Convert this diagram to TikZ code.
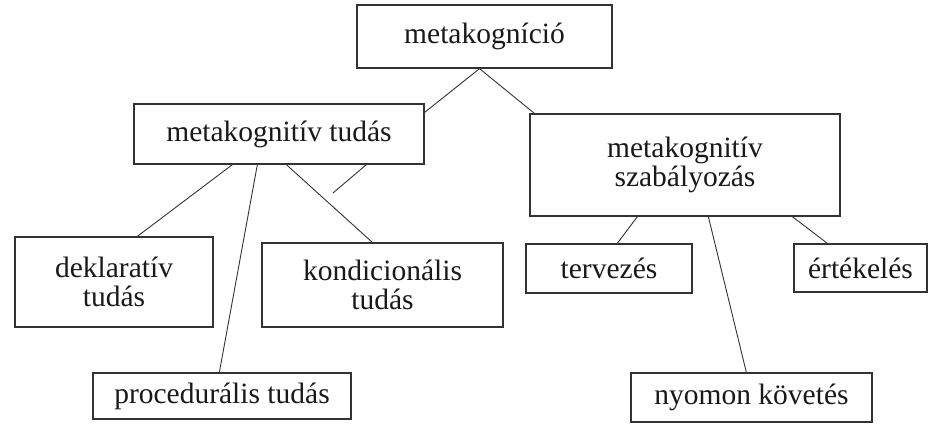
\documentclass[tikz,border=0pt]{standalone}
\usepackage{fontspec}
\setmainfont{Liberation Serif}
\usepackage{tikz}

\begin{document}
\begin{tikzpicture}[
    x=1pt, y=-1pt,
    font=\fontsize{29.5}{29.5}\selectfont,
    box/.style={draw=black!80, line width=1.3pt, inner sep=0pt,
                text=black!90, align=center},
    link/.style={draw=black!80, line width=0.9pt}
  ]
    \useasboundingbox (0,0) rectangle (934,423);
    \node[box, minimum width=255pt, minimum height=63pt] (MK) at (484.5,36.5) {metakogníció};
    \node[box, minimum width=290pt, minimum height=60pt] (MT) at (279,134) {metakognitív tudás};
    \node[box, minimum width=310pt, minimum height=102pt] (MS) at (685,165) {metakognitív\\szabályozás};
    \node[box, minimum width=198pt, minimum height=90pt] (DT) at (114,282) {deklaratív\\tudás};
    \node[box, minimum width=241pt, minimum height=84pt] (KT) at (382.5,285) {kondicionális\\tudás};
    \node[box, minimum width=258pt, minimum height=46pt] (PT) at (222,396) {procedurális tudás};
    \node[box, minimum width=166pt, minimum height=49pt] (TV) at (609,268.5) {tervezés};
    \node[box, minimum width=133pt, minimum height=48pt] (ER) at (860.5,268) {értékelés};
    \node[box, minimum width=241pt, minimum height=49pt] (NK) at (751.5,397.5) {nyomon követés};
    \coordinate (stub) at (333,193);
    % upper level
    \draw[link] ([xshift=-5pt]MK.south) -- ([yshift=-9pt]MT.north east);
    \draw[link] ([xshift=-5pt]MK.south) -- ([xshift=5pt]MS.north west);
    % knowledge
    \draw[link] ([xshift=99pt]MT.south west) -- ([xshift=123pt]DT.north west);
    \draw[link] ([xshift=124pt]MT.south west) -- ([xshift=127pt]PT.north west);
    \draw[link] ([xshift=153pt]MT.south west) -- ([xshift=111pt]KT.north west);
    \draw[link] ([xshift=233pt]MT.south west) -- (stub);
    % regulation
    \draw[link] ([xshift=108pt]MS.south west) -- ([xshift=92pt]TV.north west);
    \draw[link] ([xshift=179pt]MS.south west) -- ([xshift=116pt]NK.north west);
    \draw[link] ([xshift=263pt]MS.south west) -- ([xshift=34pt]ER.north west);
\end{tikzpicture}
\end{document}
